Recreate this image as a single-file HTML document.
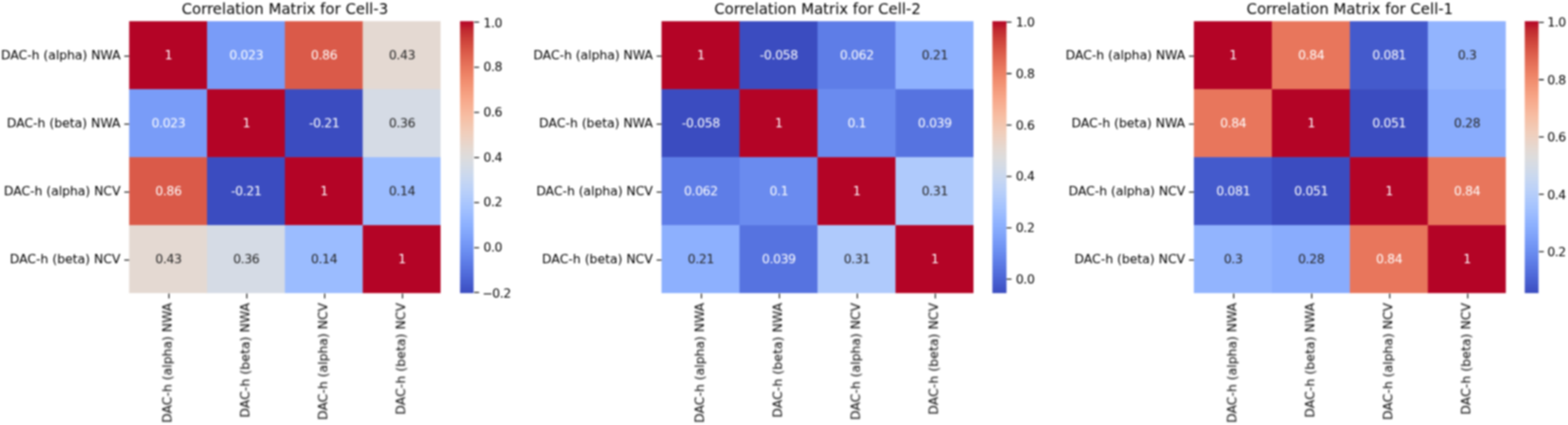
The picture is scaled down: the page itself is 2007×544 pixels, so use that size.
<!DOCTYPE html>
<html lang="en">
<head>
<meta charset="utf-8">
<title>Correlation Matrices</title>
<style>
html,body{margin:0;padding:0;background:#fff;}
body{width:2007px;height:544px;overflow:hidden;}
svg{display:block;}
text{font-family:"DejaVu Sans","Liberation Sans",sans-serif;}
.t{font-size:19.09px;fill:#000;text-anchor:middle;}
.a{font-size:15.91px;text-anchor:middle;letter-spacing:-0.45px;}
.l{font-size:15.91px;fill:#000;}
.e{text-anchor:end;}
.r{letter-spacing:0.1px;}
.n{letter-spacing:-0.05px;}
.c{letter-spacing:-0.5px;}
.tk{stroke:#000;stroke-width:1.27;fill:none;}
</style>
</head>
<body>
<svg width="2007" height="544" viewBox="0 0 2007 544">
<defs>
<linearGradient id="cw" x1="0" y1="1" x2="0" y2="0">
<stop offset="0%" stop-color="#3b4cc0"/>
<stop offset="3.12%" stop-color="#445acc"/>
<stop offset="6.25%" stop-color="#4e68d8"/>
<stop offset="9.38%" stop-color="#5875e1"/>
<stop offset="12.5%" stop-color="#6282ea"/>
<stop offset="15.62%" stop-color="#6c8ff1"/>
<stop offset="18.75%" stop-color="#779af7"/>
<stop offset="21.88%" stop-color="#82a6fb"/>
<stop offset="25%" stop-color="#8db0fe"/>
<stop offset="28.12%" stop-color="#98b9ff"/>
<stop offset="31.25%" stop-color="#a3c2fe"/>
<stop offset="34.38%" stop-color="#aec9fc"/>
<stop offset="37.5%" stop-color="#b9d0f9"/>
<stop offset="40.62%" stop-color="#c3d5f4"/>
<stop offset="43.75%" stop-color="#ccd9ed"/>
<stop offset="46.88%" stop-color="#d5dbe5"/>
<stop offset="50%" stop-color="#dddcdc"/>
<stop offset="53.12%" stop-color="#e4d9d2"/>
<stop offset="56.25%" stop-color="#ebd3c6"/>
<stop offset="59.38%" stop-color="#f1cdba"/>
<stop offset="62.5%" stop-color="#f4c5ad"/>
<stop offset="65.62%" stop-color="#f7bca1"/>
<stop offset="68.75%" stop-color="#f7b194"/>
<stop offset="71.88%" stop-color="#f7a688"/>
<stop offset="75%" stop-color="#f49a7b"/>
<stop offset="78.12%" stop-color="#f18d6f"/>
<stop offset="81.25%" stop-color="#ec7f63"/>
<stop offset="84.38%" stop-color="#e57058"/>
<stop offset="87.5%" stop-color="#de614d"/>
<stop offset="90.62%" stop-color="#d55042"/>
<stop offset="93.75%" stop-color="#cb3e38"/>
<stop offset="96.88%" stop-color="#c0282f"/>
<stop offset="100%" stop-color="#b40426"/>
</linearGradient>
<filter id="bl" x="-2%" y="-2%" width="104%" height="104%" color-interpolation-filters="sRGB"><feGaussianBlur stdDeviation="1"/></filter>
</defs>
<rect x="0" y="0" width="2007" height="544" fill="#fff"/>
<g filter="url(#bl)">
<!-- panel 1 -->
<g>
<rect x="165.35" y="27.15" width="100.25" height="87.61" fill="#b40426"/>
<rect x="265" y="27.15" width="100.25" height="87.61" fill="#799cf8"/>
<rect x="364.64" y="27.15" width="100.25" height="87.61" fill="#da5a49"/>
<rect x="464.29" y="27.15" width="99.65" height="87.61" fill="#e4d9d2"/>
<rect x="165.35" y="114.16" width="100.25" height="87.61" fill="#799cf8"/>
<rect x="265" y="114.16" width="100.25" height="87.61" fill="#b40426"/>
<rect x="364.64" y="114.16" width="100.25" height="87.61" fill="#3b4cc0"/>
<rect x="464.29" y="114.16" width="99.65" height="87.61" fill="#d5dbe5"/>
<rect x="165.35" y="201.17" width="100.25" height="87.61" fill="#da5a49"/>
<rect x="265" y="201.17" width="100.25" height="87.61" fill="#3b4cc0"/>
<rect x="364.64" y="201.17" width="100.25" height="87.61" fill="#b40426"/>
<rect x="464.29" y="201.17" width="99.65" height="87.61" fill="#9bbcff"/>
<rect x="165.35" y="288.18" width="100.25" height="87.01" fill="#e4d9d2"/>
<rect x="265" y="288.18" width="100.25" height="87.01" fill="#d5dbe5"/>
<rect x="364.64" y="288.18" width="100.25" height="87.01" fill="#9bbcff"/>
<rect x="464.29" y="288.18" width="99.65" height="87.01" fill="#b40426"/>
<rect x="588.84" y="27.15" width="17.37" height="348.04" fill="url(#cw)"/>
<path class="tk" d="M216.28 375.7v6.27M165.35 71.76h-6.27M315.92 375.7v6.27M165.35 158.77h-6.27M415.57 375.7v6.27M165.35 245.78h-6.27M515.21 375.7v6.27M165.35 332.79h-6.27M607.02 374.26h6.27M607.02 317.05h6.27M607.02 259.33h6.27M607.02 201.61h6.27M607.02 143.89h6.27M607.02 86.17h6.27M607.02 28.45h6.27"/>
<text class="t" x="364.64" y="18.2">Correlation Matrix for Cell-3</text>
<text class="l e n" x="154.22" y="76.34">DAC-h (alpha) NWA</text>
<text class="l e" x="154.22" y="163.35">DAC-h (beta) NWA</text>
<text class="l e n" x="154.22" y="250.36">DAC-h (alpha) NCV</text>
<text class="l e" x="154.22" y="337.37">DAC-h (beta) NCV</text>
<text class="l e" transform="translate(219.56 387.54) rotate(-90)">DAC-h (alpha) NWA</text>
<text class="l e r" transform="translate(319.2 387.54) rotate(-90)">DAC-h (beta) NWA</text>
<text class="l e" transform="translate(418.85 387.54) rotate(-90)">DAC-h (alpha) NCV</text>
<text class="l e r" transform="translate(518.49 387.54) rotate(-90)">DAC-h (beta) NCV</text>
<text class="a" fill="#ffffff" x="215.58" y="76.44">1</text>
<text class="a" fill="#ffffff" x="315.22" y="76.44">0.023</text>
<text class="a" fill="#ffffff" x="414.87" y="76.44">0.86</text>
<text class="a" fill="#262626" x="514.51" y="76.44">0.43</text>
<text class="a" fill="#ffffff" x="215.58" y="163.45">0.023</text>
<text class="a" fill="#ffffff" x="315.22" y="163.45">1</text>
<text class="a" fill="#ffffff" x="414.87" y="163.45">-0.21</text>
<text class="a" fill="#262626" x="514.51" y="163.45">0.36</text>
<text class="a" fill="#ffffff" x="215.58" y="250.46">0.86</text>
<text class="a" fill="#ffffff" x="315.22" y="250.46">-0.21</text>
<text class="a" fill="#ffffff" x="414.87" y="250.46">1</text>
<text class="a" fill="#262626" x="514.51" y="250.46">0.14</text>
<text class="a" fill="#262626" x="215.58" y="337.47">0.43</text>
<text class="a" fill="#262626" x="315.22" y="337.47">0.36</text>
<text class="a" fill="#262626" x="414.87" y="337.47">0.14</text>
<text class="a" fill="#ffffff" x="514.51" y="337.47">1</text>
<text class="l c" x="617.25" y="380.86">−0.2</text>
<text class="l c" x="618.85" y="322.15">0.0</text>
<text class="l c" x="618.85" y="264.43">0.2</text>
<text class="l c" x="618.85" y="206.71">0.4</text>
<text class="l c" x="618.85" y="148.99">0.6</text>
<text class="l c" x="618.85" y="91.27">0.8</text>
<text class="l c" x="618.85" y="34.95">1.0</text>
</g>
<!-- panel 2 -->
<g>
<rect x="846.74" y="27.15" width="100.42" height="87.61" fill="#b40426"/>
<rect x="946.56" y="27.15" width="100.42" height="87.61" fill="#3b4cc0"/>
<rect x="1046.38" y="27.15" width="100.42" height="87.61" fill="#5e7de7"/>
<rect x="1146.2" y="27.15" width="99.82" height="87.61" fill="#8db0fe"/>
<rect x="846.74" y="114.16" width="100.42" height="87.61" fill="#3b4cc0"/>
<rect x="946.56" y="114.16" width="100.42" height="87.61" fill="#b40426"/>
<rect x="1046.38" y="114.16" width="100.42" height="87.61" fill="#6a8bef"/>
<rect x="1146.2" y="114.16" width="99.82" height="87.61" fill="#5673e0"/>
<rect x="846.74" y="201.17" width="100.42" height="87.61" fill="#5e7de7"/>
<rect x="946.56" y="201.17" width="100.42" height="87.61" fill="#6a8bef"/>
<rect x="1046.38" y="201.17" width="100.42" height="87.61" fill="#b40426"/>
<rect x="1146.2" y="201.17" width="99.82" height="87.61" fill="#afcafc"/>
<rect x="846.74" y="288.18" width="100.42" height="87.01" fill="#8db0fe"/>
<rect x="946.56" y="288.18" width="100.42" height="87.01" fill="#5673e0"/>
<rect x="1046.38" y="288.18" width="100.42" height="87.01" fill="#afcafc"/>
<rect x="1146.2" y="288.18" width="99.82" height="87.01" fill="#b40426"/>
<rect x="1270.24" y="27.15" width="18.07" height="348.04" fill="url(#cw)"/>
<path class="tk" d="M897.75 375.7v6.27M846.74 71.76h-6.27M997.57 375.7v6.27M846.74 158.77h-6.27M1097.39 375.7v6.27M846.74 245.78h-6.27M1197.21 375.7v6.27M846.74 332.79h-6.27M1288.41 357.42h6.27M1288.41 291.62h6.27M1288.41 225.83h6.27M1288.41 160.04h6.27M1288.41 94.25h6.27M1288.41 28.45h6.27"/>
<text class="t" x="1046.38" y="18.2">Correlation Matrix for Cell-2</text>
<text class="l e n" x="835.62" y="76.34">DAC-h (alpha) NWA</text>
<text class="l e" x="835.62" y="163.35">DAC-h (beta) NWA</text>
<text class="l e n" x="835.62" y="250.36">DAC-h (alpha) NCV</text>
<text class="l e" x="835.62" y="337.37">DAC-h (beta) NCV</text>
<text class="l e" transform="translate(901.04 387.54) rotate(-90)">DAC-h (alpha) NWA</text>
<text class="l e r" transform="translate(1000.86 387.54) rotate(-90)">DAC-h (beta) NWA</text>
<text class="l e" transform="translate(1100.68 387.54) rotate(-90)">DAC-h (alpha) NCV</text>
<text class="l e r" transform="translate(1200.5 387.54) rotate(-90)">DAC-h (beta) NCV</text>
<text class="a" fill="#ffffff" x="897.05" y="76.44">1</text>
<text class="a" fill="#ffffff" x="996.87" y="76.44">-0.058</text>
<text class="a" fill="#ffffff" x="1096.69" y="76.44">0.062</text>
<text class="a" fill="#262626" x="1196.51" y="76.44">0.21</text>
<text class="a" fill="#ffffff" x="897.05" y="163.45">-0.058</text>
<text class="a" fill="#ffffff" x="996.87" y="163.45">1</text>
<text class="a" fill="#ffffff" x="1096.69" y="163.45">0.1</text>
<text class="a" fill="#ffffff" x="1196.51" y="163.45">0.039</text>
<text class="a" fill="#ffffff" x="897.05" y="250.46">0.062</text>
<text class="a" fill="#ffffff" x="996.87" y="250.46">0.1</text>
<text class="a" fill="#ffffff" x="1096.69" y="250.46">1</text>
<text class="a" fill="#262626" x="1196.51" y="250.46">0.31</text>
<text class="a" fill="#262626" x="897.05" y="337.47">0.21</text>
<text class="a" fill="#ffffff" x="996.87" y="337.47">0.039</text>
<text class="a" fill="#262626" x="1096.69" y="337.47">0.31</text>
<text class="a" fill="#ffffff" x="1196.51" y="337.47">1</text>
<text class="l c" x="1300.24" y="362.92">0.0</text>
<text class="l c" x="1300.24" y="297.12">0.2</text>
<text class="l c" x="1300.24" y="231.33">0.4</text>
<text class="l c" x="1300.24" y="165.54">0.6</text>
<text class="l c" x="1300.24" y="99.75">0.8</text>
<text class="l c" x="1300.24" y="34.25">1.0</text>
</g>
<!-- panel 3 -->
<g>
<rect x="1528.13" y="27.15" width="100.42" height="87.61" fill="#b40426"/>
<rect x="1627.96" y="27.15" width="100.42" height="87.61" fill="#e8765c"/>
<rect x="1727.78" y="27.15" width="100.42" height="87.61" fill="#445acc"/>
<rect x="1827.6" y="27.15" width="99.82" height="87.61" fill="#92b4fe"/>
<rect x="1528.13" y="114.16" width="100.42" height="87.61" fill="#e8765c"/>
<rect x="1627.96" y="114.16" width="100.42" height="87.61" fill="#b40426"/>
<rect x="1727.78" y="114.16" width="100.42" height="87.61" fill="#3b4cc0"/>
<rect x="1827.6" y="114.16" width="99.82" height="87.61" fill="#89acfd"/>
<rect x="1528.13" y="201.17" width="100.42" height="87.61" fill="#445acc"/>
<rect x="1627.96" y="201.17" width="100.42" height="87.61" fill="#3b4cc0"/>
<rect x="1727.78" y="201.17" width="100.42" height="87.61" fill="#b40426"/>
<rect x="1827.6" y="201.17" width="99.82" height="87.61" fill="#e8765c"/>
<rect x="1528.13" y="288.18" width="100.42" height="87.01" fill="#92b4fe"/>
<rect x="1627.96" y="288.18" width="100.42" height="87.01" fill="#89acfd"/>
<rect x="1727.78" y="288.18" width="100.42" height="87.01" fill="#e8765c"/>
<rect x="1827.6" y="288.18" width="99.82" height="87.01" fill="#b40426"/>
<rect x="1951.63" y="27.15" width="17.67" height="348.04" fill="url(#cw)"/>
<path class="tk" d="M1579.14 375.7v6.27M1528.13 71.76h-6.27M1678.97 375.7v6.27M1528.13 158.77h-6.27M1778.79 375.7v6.27M1528.13 245.78h-6.27M1878.61 375.7v6.27M1528.13 332.79h-6.27M1969.8 322.05h6.27M1969.8 248.7h6.27M1969.8 175.35h6.27M1969.8 102h6.27M1969.8 28.65h6.27"/>
<text class="t" x="1727.78" y="18.2">Correlation Matrix for Cell-1</text>
<text class="l e n" x="1517.01" y="76.34">DAC-h (alpha) NWA</text>
<text class="l e" x="1517.01" y="163.35">DAC-h (beta) NWA</text>
<text class="l e n" x="1517.01" y="250.36">DAC-h (alpha) NCV</text>
<text class="l e" x="1517.01" y="337.37">DAC-h (beta) NCV</text>
<text class="l e" transform="translate(1582.43 387.54) rotate(-90)">DAC-h (alpha) NWA</text>
<text class="l e r" transform="translate(1682.25 387.54) rotate(-90)">DAC-h (beta) NWA</text>
<text class="l e" transform="translate(1782.07 387.54) rotate(-90)">DAC-h (alpha) NCV</text>
<text class="l e r" transform="translate(1881.89 387.54) rotate(-90)">DAC-h (beta) NCV</text>
<text class="a" fill="#ffffff" x="1578.44" y="76.44">1</text>
<text class="a" fill="#ffffff" x="1678.27" y="76.44">0.84</text>
<text class="a" fill="#ffffff" x="1778.09" y="76.44">0.081</text>
<text class="a" fill="#262626" x="1877.91" y="76.44">0.3</text>
<text class="a" fill="#ffffff" x="1578.44" y="163.45">0.84</text>
<text class="a" fill="#ffffff" x="1678.27" y="163.45">1</text>
<text class="a" fill="#ffffff" x="1778.09" y="163.45">0.051</text>
<text class="a" fill="#262626" x="1877.91" y="163.45">0.28</text>
<text class="a" fill="#ffffff" x="1578.44" y="250.46">0.081</text>
<text class="a" fill="#ffffff" x="1678.27" y="250.46">0.051</text>
<text class="a" fill="#ffffff" x="1778.09" y="250.46">1</text>
<text class="a" fill="#ffffff" x="1877.91" y="250.46">0.84</text>
<text class="a" fill="#262626" x="1578.44" y="337.47">0.3</text>
<text class="a" fill="#262626" x="1678.27" y="337.47">0.28</text>
<text class="a" fill="#ffffff" x="1778.09" y="337.47">0.84</text>
<text class="a" fill="#ffffff" x="1877.91" y="337.47">1</text>
<text class="l c" x="1980.43" y="328.05">0.2</text>
<text class="l c" x="1980.43" y="254.7">0.4</text>
<text class="l c" x="1980.43" y="181.35">0.6</text>
<text class="l c" x="1980.43" y="108">0.8</text>
<text class="l c" x="1980.43" y="34.25">1.0</text>
</g>
</g>
</svg>
</body>
</html>
